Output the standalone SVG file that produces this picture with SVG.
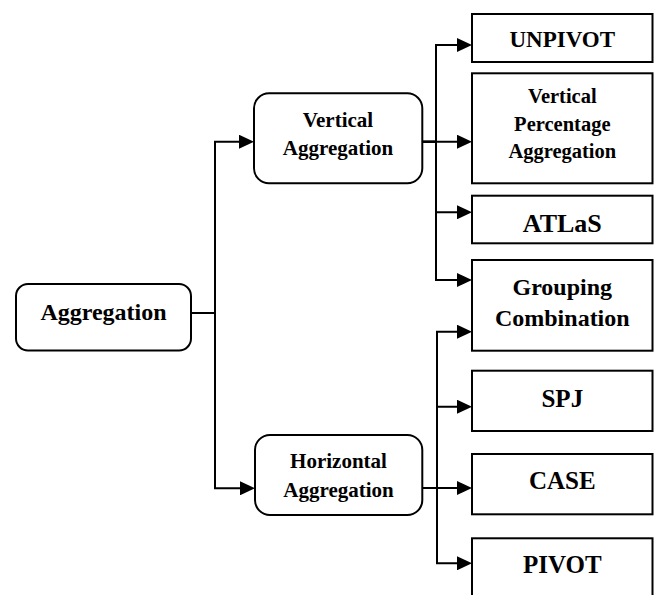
<svg xmlns="http://www.w3.org/2000/svg" width="657" height="595" viewBox="0 0 657 595">
<style>
.box{fill:#fff;stroke:#000;stroke-width:2}
.t{font-family:"Liberation Serif","Times New Roman",serif;font-weight:bold;fill:#000;text-anchor:middle}
.c{fill:none;stroke:#000;stroke-width:2;marker-end:url(#ah)}
</style>
<defs>
<marker id="ah" markerUnits="userSpaceOnUse" markerWidth="15" markerHeight="14" viewBox="0 0 15 14" refX="5" refY="7" orient="auto">
<path d="M0,0 L15,7 L0,14 Z" fill="#000"/>
</marker>
</defs>
<rect width="657" height="595" fill="#fff"/>
<g id="connectors">
<path class="c" d="M191,313 H215 V141.7 H244"/>
<path class="c" d="M191,313 H215 V488.3 H245"/>
<path class="c" d="M422,141.7 H436 V45 H462"/>
<path class="c" d="M422,141.7 H462"/>
<path class="c" d="M422,141.7 H436 V212.3 H462"/>
<path class="c" d="M422,141.7 H436 V280 H462"/>
<path class="c" d="M422,488 H437 V331.7 H462"/>
<path class="c" d="M422,488 H437 V406.7 H462"/>
<path class="c" d="M422,488 H462"/>
<path class="c" d="M422,488 H437 V563.3 H462"/>
</g>
<g id="aggregation">
<rect class="box" x="16" y="284" width="175" height="66.5" rx="12"/>
<text class="t" x="103.5" y="320" font-size="24">Aggregation</text>
</g>
<g id="vertical-aggregation">
<rect class="box" x="254" y="93.3" width="168.3" height="90" rx="15"/>
<text class="t" x="338" y="126.7" font-size="21">Vertical</text>
<text class="t" x="338" y="155" font-size="21">Aggregation</text>
</g>
<g id="horizontal-aggregation">
<rect class="box" x="255" y="435" width="167.3" height="80" rx="15"/>
<text class="t" x="338.5" y="468.3" font-size="21">Horizontal</text>
<text class="t" x="338.5" y="497.3" font-size="21">Aggregation</text>
</g>
<g id="unpivot">
<rect class="box" x="472" y="14" width="180.5" height="48"/>
<text class="t" x="562.3" y="47" font-size="23">UNPIVOT</text>
</g>
<g id="vertical-percentage-aggregation">
<rect class="box" x="472" y="73.3" width="180.5" height="110"/>
<text class="t" x="562.3" y="103.3" font-size="20.5">Vertical</text>
<text class="t" x="562.3" y="131" font-size="20.5">Percentage</text>
<text class="t" x="562.3" y="158.3" font-size="20.5">Aggregation</text>
</g>
<g id="atlas">
<rect class="box" x="472" y="195.7" width="180.5" height="47.6"/>
<text class="t" x="562.3" y="232.3" font-size="26">ATLaS</text>
</g>
<g id="grouping-combination">
<rect class="box" x="472" y="260" width="180.5" height="90.7"/>
<text class="t" x="562.3" y="295" font-size="24">Grouping</text>
<text class="t" x="562.3" y="325.7" font-size="24">Combination</text>
</g>
<g id="spj">
<rect class="box" x="472" y="370.7" width="180.5" height="60.3"/>
<text class="t" x="562.3" y="407.3" font-size="25">SPJ</text>
</g>
<g id="case">
<rect class="box" x="472" y="454" width="180.5" height="60.3"/>
<text class="t" x="562.3" y="489.3" font-size="25">CASE</text>
</g>
<g id="pivot">
<rect class="box" x="472" y="538.3" width="180.5" height="70"/>
<text class="t" x="562.3" y="573.3" font-size="25">PIVOT</text>
</g>
</svg>
